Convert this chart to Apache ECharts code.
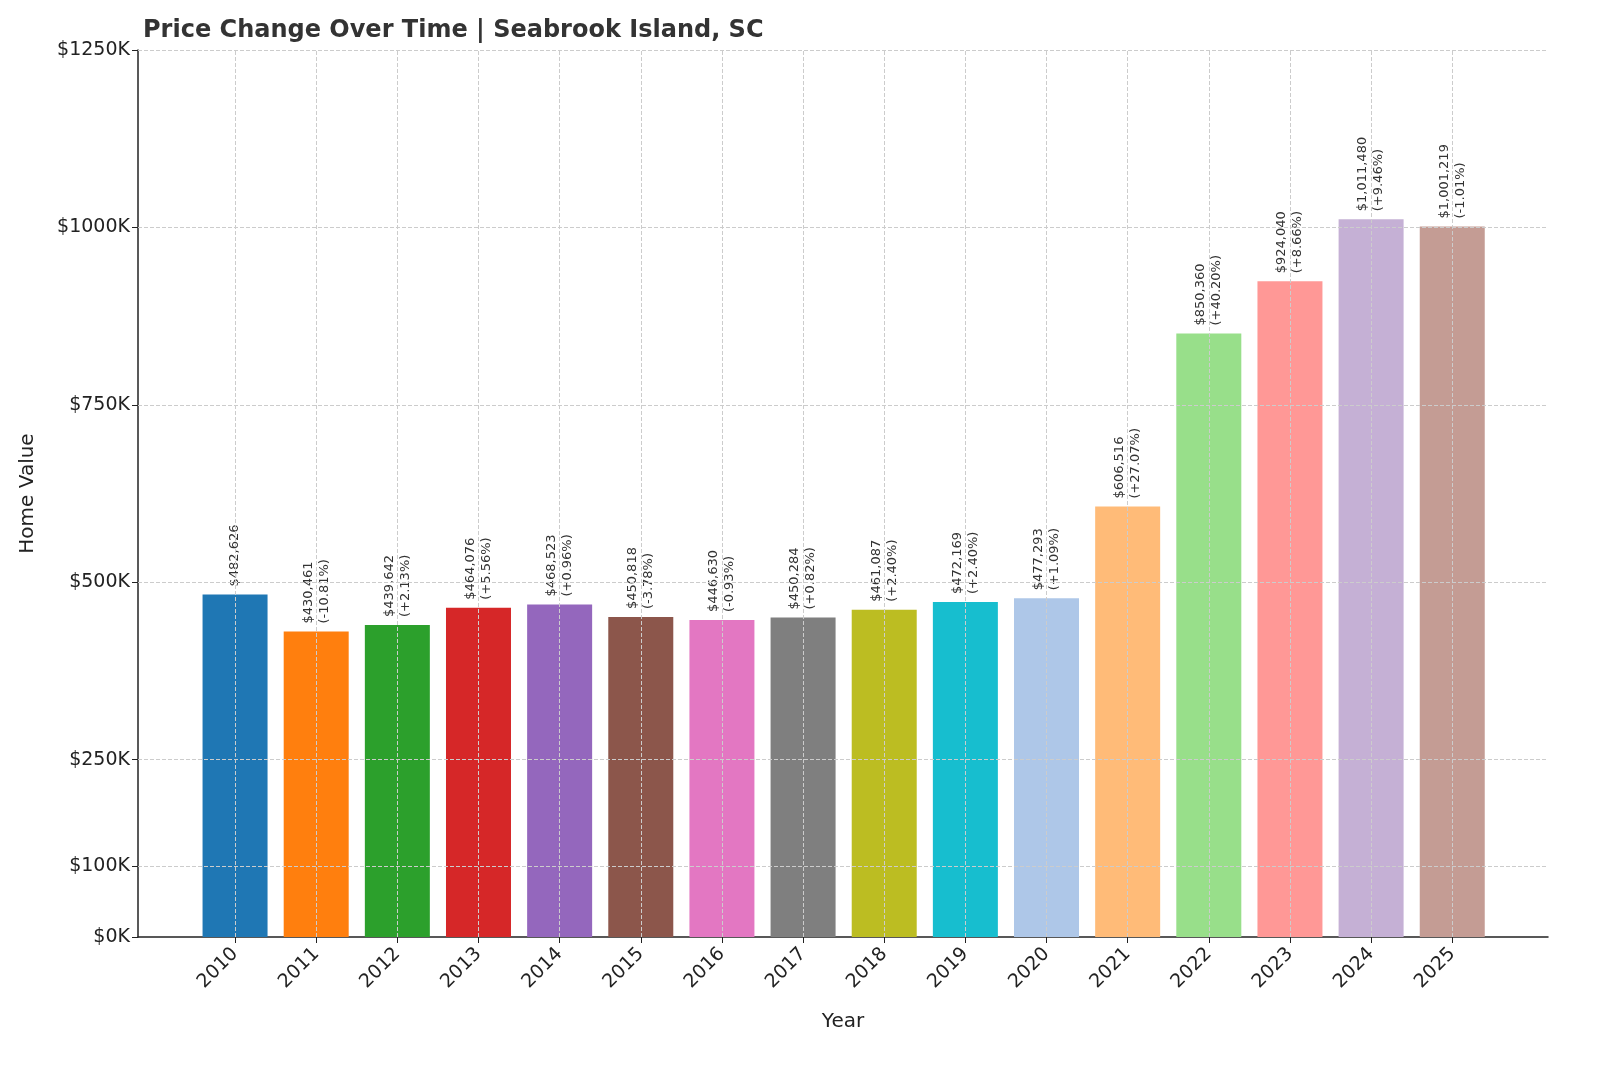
<!DOCTYPE html>
<html><head><meta charset="utf-8">
<script src="https://cdn.jsdelivr.net/npm/echarts@6/dist/echarts.min.js"></script>
<style>html,body{margin:0;padding:0;background:#fff}#c{width:1600px;height:1067px}</style>
</head><body><div id="c"></div>
<script>
const years = [2010,2011,2012,2013,2014,2015,2016,2017,2018,2019,2020,2021,2022,2023,2024,2025];
const values = [482626,430461,439642,464076,468523,450818,446630,450284,461087,472169,477293,606516,850360,924040,1011480,1001219];
const changes = [null,'-10.81%','+2.13%','+5.56%','+0.96%','-3.78%','-0.93%','+0.82%','+2.40%','+2.40%','+1.09%','+27.07%','+40.20%','+8.66%','+9.46%','-1.01%'];
const yTicks = [0,100000,250000,500000,750000,1000000,1250000];
const colors = ['#1f77b4','#ff7f0e','#2ca02c','#d62728','#9467bd','#8c564b','#e377c2','#7f7f7f','#bcbd22','#17becf','#aec7e8','#ffbb78','#98df8a','#ff9896','#c5b0d5','#c49c94'];

const chart = echarts.init(document.getElementById('c'));
const fmtVal = v => '$' + v.toLocaleString('en-US');
const grid = {type:'dashed', color:'#cccccc', width:1};
chart.setOption({
  animation:false,
  title:{text:'Price Change Over Time | Seabrook Island, SC', left:138, top:14,
    textStyle:{fontFamily:'DejaVu Sans', fontSize:24, fontWeight:'bold', color:'#333'}},
  grid:{left:138, right:52, top:50, bottom:130},
  xAxis:{type:'value', min:2008.804, max:2026.18, name:'Year', nameLocation:'middle', nameGap:75,
    nameTextStyle:{fontFamily:'DejaVu Sans', fontSize:20, color:'#222'},
    splitLine:{show:false},
    axisLine:{show:true, lineStyle:{color:'#222', width:1.5}},
    axisTick:{show:true, customValues:years, length:6, lineStyle:{color:'#222'}},
    axisLabel:{customValues:years, rotate:45, fontFamily:'DejaVu Sans', fontSize:19, color:'#222', margin:14, formatter:v=>String(v)}
  },
  yAxis:{type:'value', min:0, max:1250000, name:'Home Value', nameLocation:'middle', nameGap:100,
    nameTextStyle:{fontFamily:'DejaVu Sans', fontSize:20, color:'#222'},
    splitLine:{show:false},
    axisLine:{show:true, lineStyle:{color:'#222', width:1.5}},
    axisTick:{show:true, customValues:yTicks, length:6, lineStyle:{color:'#222'}},
    axisLabel:{customValues:yTicks, fontFamily:'DejaVu Sans', fontSize:19, color:'#222', formatter:v=>'$'+Math.round(v/1000)+'K'}
  },
  series:[{
    type:'bar', barWidth:65,
    data: years.map((y,i)=>({value:[y, values[i]], itemStyle:{color:colors[i]}})),
    label:{show:true, position:'top', rotate:90, align:'left', verticalAlign:'middle', distance:8,
      fontFamily:'DejaVu Sans', fontSize:13, color:'#333', lineHeight:16,
      formatter:p=>{const i=p.dataIndex; return changes[i]? fmtVal(values[i])+'\n('+changes[i]+')' : fmtVal(values[i]);}},
    z:3
  },{
    type:'line', data:[], silent:true, z:1,
    markLine:{silent:true, symbol:'none', label:{show:false}, lineStyle:grid,
      data: yTicks.filter(v=>v>0).map(v=>({yAxis:v})).concat(years.map(y=>({xAxis:y})))}
  }]
});
</script></body></html>
